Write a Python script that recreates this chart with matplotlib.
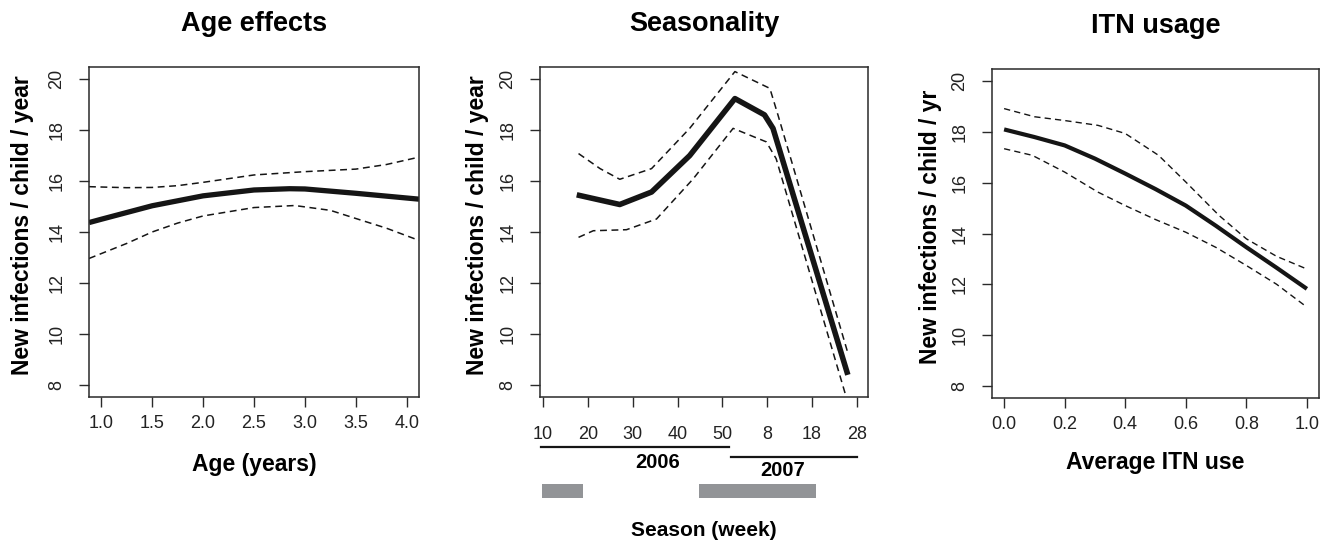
import matplotlib
matplotlib.use("Agg")
import matplotlib.pyplot as plt

plt.rcParams['font.family'] = ['Liberation Sans', 'DejaVu Sans']

# ---- data ----
age_x = [0.88, 1.0, 1.5, 2.0, 2.5, 2.85, 3.0, 3.5, 4.12]
age_fit = [14.37, 14.5, 15.03, 15.42, 15.65, 15.70, 15.69, 15.52, 15.29]
age_up_x = [0.88, 1.25, 1.5, 1.75, 2.0, 2.5, 3.0, 3.5, 3.8, 4.12]
age_up = [15.78, 15.74, 15.75, 15.82, 15.95, 16.24, 16.37, 16.47, 16.65, 16.94]
age_lo_x = [0.88, 1.25, 1.5, 1.75, 2.0, 2.5, 2.9, 3.25, 3.5, 3.8, 4.12]
age_lo = [12.96, 13.55, 14.0, 14.35, 14.63, 14.96, 15.04, 14.85, 14.53, 14.15, 13.67]

# weeks counted continuously from 2006 (week 60 = week 8 of 2007)
wk_x = [17.5, 27.1, 34.2, 42.7, 52.8, 59.4, 61.3, 78.0]
wk_fit = [15.46, 15.08, 15.57, 17.0, 19.24, 18.6, 18.07, 8.39]
wk_up_x = [17.9, 22.7, 27.1, 34.2, 42.7, 52.8, 60.6, 62.4, 78.0]
wk_up = [17.08, 16.49, 16.07, 16.49, 18.07, 20.3, 19.64, 18.6, 9.25]
wk_lo_x = [17.9, 21.2, 28.6, 35.3, 43.5, 52.4, 59.8, 62.0, 77.6]
wk_lo = [13.79, 14.05, 14.09, 14.51, 16.09, 18.07, 17.54, 16.88, 7.54]
wk_ticks = [10, 20, 30, 40, 50, 60, 70, 80]
wk_labels = ["10", "20", "30", "40", "50", "8", "18", "28"]
years = ["2006", "2007"]
year_spans = [(9.6, 51.4), (51.9, 80.0)]
rainy_spans = [(9.8, 18.9), (44.7, 70.8)]

itn_x = [0.0, 0.1, 0.2, 0.3, 0.4, 0.5, 0.6, 0.7, 0.8, 0.9, 1.0]
itn_fit = [18.1, 17.8, 17.47, 16.95, 16.36, 15.75, 15.1, 14.3, 13.46, 12.65, 11.82]
itn_up_x = [0.0, 0.1, 0.2, 0.31, 0.4, 0.51, 0.6, 0.71, 0.8, 0.9, 1.0]
itn_up = [18.92, 18.6, 18.45, 18.26, 17.94, 17.08, 16.03, 14.71, 13.79, 13.1, 12.6]
itn_lo_x = [0.0, 0.093, 0.2, 0.31, 0.4, 0.5, 0.6, 0.7, 0.8, 0.9, 1.0]
itn_lo = [17.34, 17.08, 16.42, 15.63, 15.1, 14.55, 14.05, 13.45, 12.74, 12.0, 11.1]

y_ticks = [8, 10, 12, 14, 16, 18, 20]

W, H = 1334, 545
fig = plt.figure(figsize=(W / 100, H / 100), dpi=100)

dash = (0, (4.5, 3))
ink = '#151515'


def make_axes(left, right, top, bottom):
    ax = fig.add_axes([left / W, 1 - bottom / H, (right - left) / W, (bottom - top) / H])
    for s in ax.spines.values():
        s.set_linewidth(1.1)
        s.set_color('#2a2a2a')
    ax.set_ylim(7.52, 20.48)
    ax.set_yticks(y_ticks)
    ax.set_yticklabels([str(v) for v in y_ticks], rotation=90, va='center')
    ax.tick_params(direction='out', length=7, width=1.0, labelsize=13, color='#2a2a2a',
                   labelcolor='#222222')
    ax.tick_params(axis='y', pad=10)
    ax.tick_params(axis='x', pad=6)
    return ax


def style_labels(ax, title, xlabel, ylabel, xl_off, yl_off, h):
    ax.set_title(title, fontsize=19.5, fontweight='bold', y=1 + 43 / h, va='center', pad=0)
    ax.set_xlabel(xlabel, fontsize=16.5, fontweight='bold', va='center')
    ax.xaxis.set_label_coords(0.5, -xl_off / h)
    ax.set_ylabel(ylabel, fontsize=16.5, fontweight='bold', va='center')
    ax.yaxis.set_label_coords(-yl_off / h, 0.52)


# Age effects
ax1 = make_axes(89, 419, 67, 397)
ax1.plot(age_x, age_fit, color=ink, lw=3.8, solid_capstyle='butt')
ax1.plot(age_up_x, age_up, color=ink, lw=1.1, linestyle=dash)
ax1.plot(age_lo_x, age_lo, color=ink, lw=1.1, linestyle=dash)
ax1.set_xlim(0.88, 4.12)
ax1.set_xticks([1.0, 1.5, 2.0, 2.5, 3.0, 3.5, 4.0])
ax1.set_xticklabels(["1.0", "1.5", "2.0", "2.5", "3.0", "3.5", "4.0"])
style_labels(ax1, "Age effects", "Age (years)", "New infections / child / year", 68, 66, 330)

# Seasonality
ax2 = make_axes(540, 868, 67, 397)
ax2.plot(wk_x, wk_fit, color=ink, lw=4.0, solid_capstyle='butt')
ax2.plot(wk_up_x, wk_up, color=ink, lw=1.1, linestyle=dash)
ax2.plot(wk_lo_x, wk_lo, color=ink, lw=1.1, linestyle=dash)
ax2.set_xlim(9.3, 82.5)
ax2.set_xticks(wk_ticks)
ax2.set_xticklabels(wk_labels)
ax2.tick_params(axis='x', pad=14)
style_labels(ax2, "Seasonality", "Season (week)", "New infections / child / year", 133, 63, 330)
ax2.xaxis.label.set_fontsize(15)
tr = ax2.get_xaxis_transform()
line_y = [-50 / 330, -60 / 330]
text_y = [-65 / 330, -74 / 330]
text_x = [35.5, 63.5]
for (a, b), ly, tx, ty, yr in zip(year_spans, line_y, text_x, text_y, years):
    ax2.plot([a, b], [ly, ly], color=ink, lw=1.6, transform=tr, clip_on=False)
    ax2.text(tx, ty, yr, transform=tr, ha='center', va='center', fontsize=14.5, fontweight='bold')
for a, b in rainy_spans:
    ax2.fill_between([a, b], -101 / 330, -87 / 330, color='#929497', lw=0,
                     transform=tr, clip_on=False)

# ITN usage
ax3 = make_axes(992, 1319, 69, 398)
ax3.plot(itn_x, itn_fit, color=ink, lw=3.0, solid_capstyle='butt')
ax3.plot(itn_up_x, itn_up, color=ink, lw=1.0, linestyle=dash)
ax3.plot(itn_lo_x, itn_lo, color=ink, lw=1.0, linestyle=dash)
ax3.set_xlim(-0.04, 1.04)
ax3.set_xticks([0.0, 0.2, 0.4, 0.6, 0.8, 1.0])
ax3.set_xticklabels(["0.0", "0.2", "0.4", "0.6", "0.8", "1.0"])
style_labels(ax3, "ITN usage", "Average ITN use", "New infections / child / yr", 64, 62, 329)

fig.savefig("out.png", dpi=100)
